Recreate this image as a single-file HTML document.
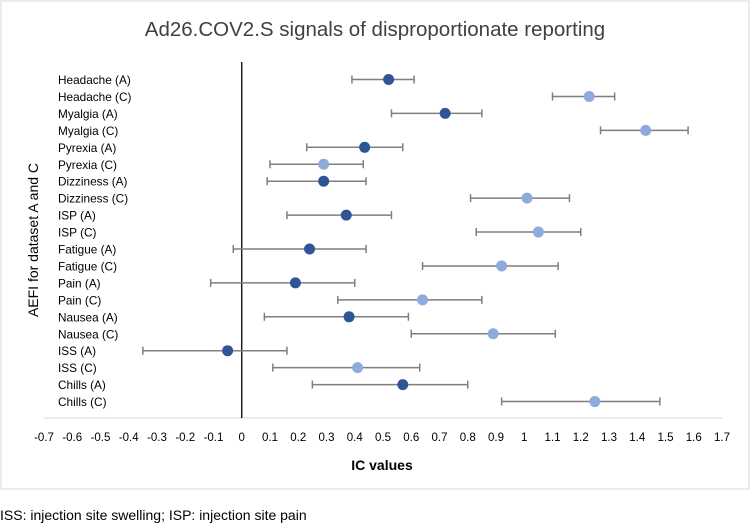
<!DOCTYPE html>
<html><head><meta charset="utf-8"><style>
body{margin:0;background:#fff;}
svg{display:block;font-family:"Liberation Sans",sans-serif;}
</style></head><body>
<svg id="chart" width="751" height="526">
<rect x="1" y="1" width="748" height="488" fill="#fff" stroke="#d9d9d9"/>
<text x="375" y="36" text-anchor="middle" font-size="20.5" fill="#404040">Ad26.COV2.S signals of disproportionate reporting</text>
<text transform="translate(38,240) rotate(-90)" text-anchor="middle" font-size="14" fill="#000">AEFI for dataset A and C</text>
<text x="382" y="470" text-anchor="middle" font-size="14" font-weight="bold" fill="#000">IC values</text>
<text x="0" y="520" font-size="14" fill="#000">ISS: injection site swelling; ISP: injection site pain</text>
<g id="g"></g>
</svg>
<script>
const categories=["Headache (A)","Headache (C)","Myalgia (A)","Myalgia (C)","Pyrexia (A)","Pyrexia (C)","Dizziness (A)","Dizziness (C)","ISP (A)","ISP (C)","Fatigue (A)","Fatigue (C)","Pain (A)","Pain (C)","Nausea (A)","Nausea (C)","ISS (A)","ISS (C)","Chills (A)","Chills (C)"];
const icValues=[0.52,1.23,0.72,1.43,0.435,0.29,0.29,1.01,0.37,1.05,0.24,0.92,0.19,0.64,0.38,0.89,-0.05,0.41,0.57,1.25];
const lowerCI=[0.39,1.10,0.53,1.27,0.23,0.10,0.09,0.81,0.16,0.83,-0.03,0.64,-0.11,0.34,0.08,0.60,-0.35,0.11,0.25,0.92];
const upperCI=[0.61,1.32,0.85,1.58,0.57,0.43,0.44,1.16,0.53,1.20,0.44,1.12,0.40,0.85,0.59,1.11,0.16,0.63,0.80,1.48];
const dataset=["A","C","A","C","A","C","A","C","A","C","A","C","A","C","A","C","A","C","A","C"];
const xTicks=[-0.7,-0.6,-0.5,-0.4,-0.3,-0.2,-0.1,0,0.1,0.2,0.3,0.4,0.5,0.6,0.7,0.8,0.9,1,1.1,1.2,1.3,1.4,1.5,1.6,1.7];
const NS="http://www.w3.org/2000/svg";
const g=document.getElementById('g');
const xMin=-0.7,xMax=1.7,pxMin=44,pxMax=722;
function X(v){return pxMin+(v-xMin)/(xMax-xMin)*(pxMax-pxMin);}
function Y(i){return 79.5+i*16.95;}
function mk(t,a){const e=document.createElementNS(NS,t);for(const k in a)e.setAttribute(k,a[k]);g.appendChild(e);return e;}
let e=mk('line',{x1:pxMin,x2:pxMax,y1:418,y2:418,stroke:'#d9d9d9','stroke-width':1});


xTicks.forEach(t=>{const l=mk('text',{x:X(t),y:441,'text-anchor':'middle','font-size':11.5,fill:'#000'});l.textContent=String(t);

});
e=mk('line',{x1:X(0),x2:X(0),y1:62,y2:418,stroke:'#000','stroke-width':1.3});


categories.forEach((c,i)=>{
 const y=Y(i);
 const t=mk('text',{x:58,y:y+4.5,'font-size':11.8,fill:'#000'});t.textContent=c;
 
 
 const eb=mk('path',{d:`M${X(lowerCI[i])},${y}H${X(upperCI[i])}M${X(lowerCI[i])},${y-4}V${y+4}M${X(upperCI[i])},${y-4}V${y+4}`,stroke:'#7f7f7f','stroke-width':1.5,fill:'none'});
 
 
 const p=mk('circle',{cx:X(icValues[i]),cy:y,r:5.5,fill:dataset[i]==='A'?'#2F5597':'#8FAADC'});
 
 
});
</script>
</body></html>
